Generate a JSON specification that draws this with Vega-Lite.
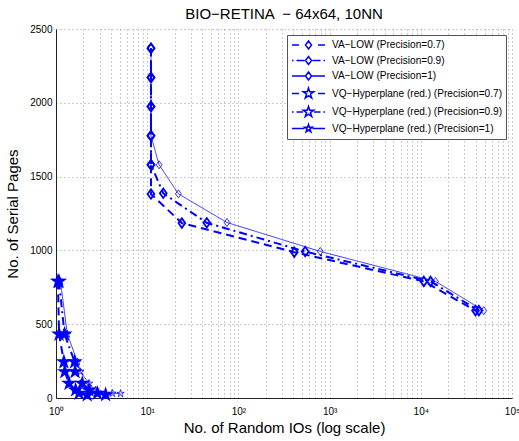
{
  "$schema": "https://vega.github.io/schema/vega-lite/v6.json",
  "width": 456,
  "height": 369,
  "autosize": {"type": "none"},
  "padding": {"left": 56, "top": 29, "right": 7, "bottom": 43},
  "background": "white",
  "params": [
    {"name": "seriesNames", "value": ["VA−LOW (Precision=0.7)", "VA−LOW (Precision=0.9)", "VA−LOW (Precision=1)", "VQ−Hyperplane (red.) (Precision=0.7)", "VQ−Hyperplane (red.) (Precision=0.9)", "VQ−Hyperplane (red.) (Precision=1)"]},
    {"name": "legendWidths", "value": [2, 2, 0.8, 2, 2, 0.8]}
  ],
  "title": {
    "text": "BIO−RETINA \u00a0− 64x64, 10NN",
    "fontSize": 15,
    "fontWeight": "normal",
    "font": "Liberation Sans",
    "color": "#000",
    "offset": 2
  },
  "data": {
    "values": [
      {"s": "VA−LOW (Precision=0.7)", "i": 0, "x": 11, "y": 2370},
      {"s": "VA−LOW (Precision=0.7)", "i": 1, "x": 11, "y": 2172},
      {"s": "VA−LOW (Precision=0.7)", "i": 2, "x": 11, "y": 1975},
      {"s": "VA−LOW (Precision=0.7)", "i": 3, "x": 11, "y": 1777},
      {"s": "VA−LOW (Precision=0.7)", "i": 4, "x": 11, "y": 1580},
      {"s": "VA−LOW (Precision=0.7)", "i": 5, "x": 11, "y": 1382},
      {"s": "VA−LOW (Precision=0.7)", "i": 6, "x": 24, "y": 1185},
      {"s": "VA−LOW (Precision=0.7)", "i": 7, "x": 410, "y": 988},
      {"s": "VA−LOW (Precision=0.7)", "i": 8, "x": 10800, "y": 790},
      {"s": "VA−LOW (Precision=0.7)", "i": 9, "x": 39800, "y": 592},
      {"s": "VA−LOW (Precision=0.9)", "i": 0, "x": 11, "y": 2370},
      {"s": "VA−LOW (Precision=0.9)", "i": 1, "x": 11, "y": 2172},
      {"s": "VA−LOW (Precision=0.9)", "i": 2, "x": 11, "y": 1975},
      {"s": "VA−LOW (Precision=0.9)", "i": 3, "x": 11, "y": 1777},
      {"s": "VA−LOW (Precision=0.9)", "i": 4, "x": 11, "y": 1580},
      {"s": "VA−LOW (Precision=0.9)", "i": 5, "x": 15, "y": 1387},
      {"s": "VA−LOW (Precision=0.9)", "i": 6, "x": 45, "y": 1187},
      {"s": "VA−LOW (Precision=0.9)", "i": 7, "x": 540, "y": 992},
      {"s": "VA−LOW (Precision=0.9)", "i": 8, "x": 12800, "y": 790},
      {"s": "VA−LOW (Precision=0.9)", "i": 9, "x": 43300, "y": 592},
      {"s": "VA−LOW (Precision=1)", "i": 0, "x": 11, "y": 2370},
      {"s": "VA−LOW (Precision=1)", "i": 1, "x": 11, "y": 2172},
      {"s": "VA−LOW (Precision=1)", "i": 2, "x": 11, "y": 1975},
      {"s": "VA−LOW (Precision=1)", "i": 3, "x": 11, "y": 1777},
      {"s": "VA−LOW (Precision=1)", "i": 4, "x": 13.5, "y": 1580},
      {"s": "VA−LOW (Precision=1)", "i": 5, "x": 22, "y": 1383},
      {"s": "VA−LOW (Precision=1)", "i": 6, "x": 75, "y": 1189},
      {"s": "VA−LOW (Precision=1)", "i": 7, "x": 790, "y": 993},
      {"s": "VA−LOW (Precision=1)", "i": 8, "x": 14500, "y": 790},
      {"s": "VA−LOW (Precision=1)", "i": 9, "x": 49000, "y": 592},
      {"s": "VQ−Hyperplane (red.) (Precision=0.7)", "i": 0, "x": 1.05, "y": 790},
      {"s": "VQ−Hyperplane (red.) (Precision=0.7)", "i": 1, "x": 1.08, "y": 433},
      {"s": "VQ−Hyperplane (red.) (Precision=0.7)", "i": 2, "x": 1.22, "y": 245},
      {"s": "VQ−Hyperplane (red.) (Precision=0.7)", "i": 3, "x": 1.25, "y": 178},
      {"s": "VQ−Hyperplane (red.) (Precision=0.7)", "i": 4, "x": 1.39, "y": 99},
      {"s": "VQ−Hyperplane (red.) (Precision=0.7)", "i": 5, "x": 1.64, "y": 54},
      {"s": "VQ−Hyperplane (red.) (Precision=0.7)", "i": 6, "x": 1.79, "y": 32},
      {"s": "VQ−Hyperplane (red.) (Precision=0.7)", "i": 7, "x": 2.2, "y": 20},
      {"s": "VQ−Hyperplane (red.) (Precision=0.9)", "i": 0, "x": 1.08, "y": 790},
      {"s": "VQ−Hyperplane (red.) (Precision=0.9)", "i": 1, "x": 1.24, "y": 433},
      {"s": "VQ−Hyperplane (red.) (Precision=0.9)", "i": 2, "x": 1.6, "y": 245},
      {"s": "VQ−Hyperplane (red.) (Precision=0.9)", "i": 3, "x": 1.62, "y": 178},
      {"s": "VQ−Hyperplane (red.) (Precision=0.9)", "i": 4, "x": 1.94, "y": 99},
      {"s": "VQ−Hyperplane (red.) (Precision=0.9)", "i": 5, "x": 2.3, "y": 54},
      {"s": "VQ−Hyperplane (red.) (Precision=0.9)", "i": 6, "x": 2.84, "y": 32},
      {"s": "VQ−Hyperplane (red.) (Precision=0.9)", "i": 7, "x": 3.5, "y": 22},
      {"s": "VQ−Hyperplane (red.) (Precision=1)", "i": 0, "x": 1.12, "y": 790},
      {"s": "VQ−Hyperplane (red.) (Precision=1)", "i": 1, "x": 1.33, "y": 433},
      {"s": "VQ−Hyperplane (red.) (Precision=1)", "i": 2, "x": 1.72, "y": 245},
      {"s": "VQ−Hyperplane (red.) (Precision=1)", "i": 3, "x": 1.85, "y": 178},
      {"s": "VQ−Hyperplane (red.) (Precision=1)", "i": 4, "x": 2.3, "y": 99},
      {"s": "VQ−Hyperplane (red.) (Precision=1)", "i": 5, "x": 2.72, "y": 54},
      {"s": "VQ−Hyperplane (red.) (Precision=1)", "i": 6, "x": 4.15, "y": 32},
      {"s": "VQ−Hyperplane (red.) (Precision=1)", "i": 7, "x": 5.1, "y": 30}
    ]
  },
  "encoding": {
    "x": {
      "field": "x",
      "type": "quantitative",
      "scale": {"type": "log", "domain": [1, 100000], "nice": false},
      "axis": {
        "title": "No. of Random IOs (log scale)",
        "values": [1,2,3,4,5,6,7,8,9,10,20,30,40,50,60,70,80,90,100,200,300,400,500,600,700,800,900,1000,2000,3000,4000,5000,6000,7000,8000,9000,10000,20000,30000,40000,50000,60000,70000,80000,90000,100000],
        "labelExpr": "indexof([1,10,100,1000,10000,100000], datum.value) >= 0 ? '10' + ['⁰','¹','²','³','⁴','⁵'][indexof([1,10,100,1000,10000,100000], datum.value)] : ''",
        "labelFlush": false,
        "labelOverlap": false,
        "labelPadding": 8,
        "titlePadding": 4
      }
    },
    "y": {
      "field": "y",
      "type": "quantitative",
      "scale": {"domain": [0, 2500], "nice": false},
      "axis": {
        "title": "No. of Serial Pages",
        "values": [0, 500, 1000, 1500, 2000, 2500],
        "format": "d",
        "labelFlush": false,
        "labelPadding": 4,
        "titlePadding": 9
      }
    }
  },
  "layer": [
    {
      "mark": {"type": "line", "color": "#0000ff", "opacity": 1},
      "encoding": {
        "detail": {"field": "s", "type": "nominal"},
        "order": {"field": "i", "type": "quantitative"},
        "strokeDash": {
          "condition": [
            {"test": "indexof(datum.s, '=0.7)') > 0", "value": [8, 5]},
            {"test": "indexof(datum.s, '=0.9)') > 0", "value": [8, 4, 2, 4]}
          ],
          "value": [1, 0]
        },
        "strokeWidth": {
          "condition": {"test": "indexof(datum.s, '=1)') > 0", "value": 0.8},
          "value": 2
        }
      }
    },
    {
      "mark": {"type": "point", "filled": true, "stroke": "#0000ff", "opacity": 1},
      "encoding": {
        "shape": {
          "condition": {"test": "indexof(datum.s, 'VA') == 0", "value": "M0,-1L0.72,0L0,1L-0.72,0Z"},
          "value": "M0,-1L0.2245,-0.309L0.951,-0.309L0.363,0.118L0.588,0.809L0,0.382L-0.588,0.809L-0.363,0.118L-0.951,-0.309L-0.2245,-0.309Z"
        },
        "fill": {
          "condition": {"test": "indexof(datum.s, 'VQ') == 0 && indexof(datum.s, '=1)') < 0", "value": "#0000ff"},
          "value": "transparent"
        },
        "size": {
          "condition": [
            {"test": "indexof(datum.s, 'VQ') == 0 && indexof(datum.s, '=1)') > 0", "value": 60},
            {"test": "indexof(datum.s, 'VQ') == 0", "value": 120},
            {"test": "indexof(datum.s, '=1)') > 0", "value": 64}
          ],
          "value": 90
        },
        "strokeWidth": {
          "condition": {"test": "indexof(datum.s, '=1)') > 0", "value": 0.8},
          "value": 1.8
        }
      }
    },
    {
      "mark": {"type": "point", "filled": false, "color": "#0000ff", "opacity": 0},
      "encoding": {
        "shape": {
          "field": "s",
          "type": "nominal",
          "scale": {
            "domain": ["VA−LOW (Precision=0.7)", "VA−LOW (Precision=0.9)", "VA−LOW (Precision=1)", "VQ−Hyperplane (red.) (Precision=0.7)", "VQ−Hyperplane (red.) (Precision=0.9)", "VQ−Hyperplane (red.) (Precision=1)"],
            "range": [
              "M-1,0L0.4,0M4.2,0L5.6,0M2.3,-0.8L2.9,0L2.3,0.8L1.7,0Z",
              "M-1,0L-0.7,0M-0.1,0L1.5,0M3.1,0L4.7,0M5.3,0L5.6,0M2.3,-0.8L2.9,0L2.3,0.8L1.7,0Z",
              "M-1,0L1.7,0M2.9,0L5.6,0M2.3,-0.8L2.9,0L2.3,0.8L1.7,0Z",
              "M-1,0L0.4,0M4.2,0L5.6,0M2.3,-1.1L2.547,-0.34L3.346,-0.34L2.699,0.13L2.947,0.89L2.3,0.42L1.653,0.89L1.901,0.13L1.254,-0.34L2.053,-0.34Z",
              "M-1,0L-0.7,0M-0.1,0L1.2,0M3.4,0L4.7,0M5.3,0L5.6,0M2.3,-1.1L2.547,-0.34L3.346,-0.34L2.699,0.13L2.947,0.89L2.3,0.42L1.653,0.89L1.901,0.13L1.254,-0.34L2.053,-0.34Z",
              "M-1,0L1.5,0M3.1,0L5.6,0M2.3,-0.8L2.48,-0.247L3.061,-0.247L2.591,0.095L2.77,0.647L2.3,0.306L1.83,0.647L2.009,0.095L1.539,-0.247L2.12,-0.247Z"
            ]
          },
          "legend": {
            "title": null,
            "orient": "top-right",
            "offset": 6,
            "padding": 4,
            "rowPadding": 1.5,
            "fillColor": "white",
            "strokeColor": "#555",
            "symbolSize": 100,
            "symbolOpacity": 1,
            "symbolStrokeWidth": 1.5,
            "symbolStrokeColor": "#0000ff",
            "symbolFillColor": "transparent",
            "labelOffset": 29,
            "labelLimit": 400,
            "labelFont": "Liberation Sans",
            "labelFontSize": 10.1,
            "labelColor": "#000",
            "encode": {
              "symbols": {
                "strokeWidth": {"value": {"expr": "legendWidths[indexof(seriesNames, datum.value)]"}},
                "fill": {"value": {"expr": "indexof(datum.value, 'VQ') == 0 && indexof(datum.value, '=1)') < 0 ? '#0000ff' : 'transparent'"}}
              }
            }
          }
        }
      }
    }
  ],
  "config": {
    "view": {"stroke": null},
    "font": "Liberation Sans",
    "axis": {
      "grid": true,
      "gridDash": [1, 3],
      "gridColor": "#999",
      "gridOpacity": 1,
      "ticks": false,
      "domainColor": "#222",
      "labelFont": "Liberation Sans",
      "labelFontSize": 10,
      "labelColor": "#000",
      "titleFont": "Liberation Sans",
      "titleFontSize": 15,
      "titleFontWeight": "normal",
      "titleColor": "#000"
    }
  }
}
